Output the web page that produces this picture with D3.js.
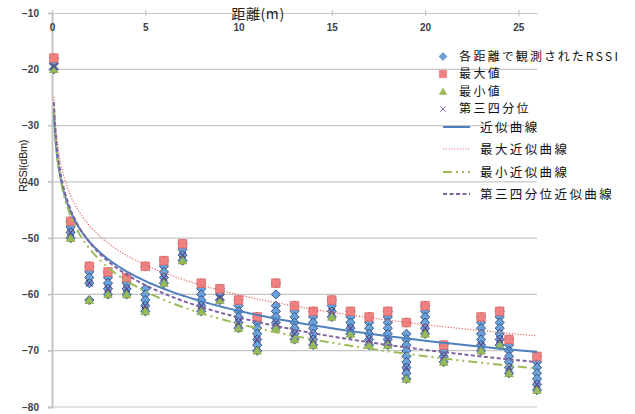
<!DOCTYPE html>
<html><head><meta charset="utf-8">
<script src="https://cdn.jsdelivr.net/npm/d3@7"></script>
<style>
html,body{margin:0;padding:0;background:#fff;}
svg{display:block;}
.cjk{font-feature-settings:"palt";}
</style>
</head><body>
<svg id="chart" width="635" height="414"></svg>
<script>
// ---- data ----
const distances = [0.1,1,2,3,4,5,6,7,8,9,10,11,12,13,14,15,16,17,18,19,20,21,23,24,24.5,26];
const maxValues = [-18,-47,-55,-56,-57,-55,-54,-51,-58,-59,-61,-64,-58,-62,-63,-61,-63,-64,-63,-65,-62,-69,-64,-63,-68,-71];
const minValues = [-20,-50,-61,-60,-60,-63,-58,-54,-63,-61,-66,-70,-66,-68,-69,-64,-67,-69,-69,-75,-67,-72,-70,-69,-74,-77];
const q3Values  = [-19.5,-49,-58,-59,-59,-62,-57,-53,-62,-60.5,-65,-68,-65,-67,-68,-63,-66,-68,-68,-73,-66,-71,-69,-68,-73,-76];
const observed = [
  [-18,-19,-20],
  [-47,-48,-49,-50],
  [-55,-56,-57,-58,-61],
  [-56,-57,-58,-59,-60],
  [-57,-58,-59,-60],
  [-55,-59,-60,-61,-62,-63],
  [-54,-55,-56,-57,-58],
  [-51,-52,-53,-54],
  [-58,-59,-60,-61,-62,-63],
  [-59,-60,-61],
  [-61,-62,-63,-64,-65,-66],
  [-64,-65,-66,-67,-68,-69,-70],
  [-58,-60,-62,-63,-64,-65,-66],
  [-62,-63,-64,-65,-66,-67,-68],
  [-63,-64,-65,-66,-67,-68,-69],
  [-61,-62,-63,-64],
  [-63,-64,-65,-66,-67],
  [-64,-65,-66,-67,-68,-69],
  [-63,-64,-65,-66,-67,-68,-69],
  [-65,-67,-68,-69,-70,-71,-72,-73,-74,-75],
  [-62,-63,-64,-65,-66,-67],
  [-69,-70,-71,-72],
  [-64,-65,-66,-67,-68,-69,-70],
  [-63,-64,-65,-66,-67,-68,-69],
  [-68,-69,-70,-71,-72,-73,-74],
  [-71,-72,-73,-74,-75,-76,-77]
];
const xTicks = [0,5,10,15,20,25];
const yTicks = [-10,-20,-30,-40,-50,-60,-70,-80];
const legendMarkers = ["各距離で観測されたRSSI","最大値","最小値","第三四分位"];
const legendLines = ["近似曲線","最大近似曲線","最小近似曲線","第三四分位近似曲線"];
const xTitle = "距離(m)";
const yTitle = "RSSI(dBm)";

// ---- layout ----
const svg = d3.select("#chart");
const x = d3.scaleLinear().domain([0,26]).range([52,537]);
const y = d3.scaleLinear().domain([-80,-10]).range([407,13]);
const FONT = "'Liberation Sans','Noto Sans CJK JP',sans-serif";
const CJK = "'Noto Sans CJK JP','Liberation Sans',sans-serif";
const col = {blue:"#6AA3DB", blueS:"#2E4A7A", red:"#EF8280", redS:"#D65A58", green:"#9BBB59", greenS:"#7A9A3A", purple:"#5E4A8C",
             lBlue:"#4F81BD", lRed:"#E46A6A", lGreen:"#9BBB59", lPurple:"#8064A2"};

// gridlines (horizontal)
svg.append("g").selectAll("line").data(yTicks.filter(d=>d!==-10)).join("line")
  .attr("x1",48).attr("x2",x(26)).attr("y1",d=>y(d)).attr("y2",d=>y(d))
  .attr("stroke","#c6c6c6").attr("stroke-width",1.2);

// y axis
const yAxis = d3.axisLeft(y).tickValues(yTicks).tickSize(4).tickPadding(9);
const gy = svg.append("g").attr("transform",`translate(${x(0)},0)`).call(yAxis);
gy.select(".domain").attr("stroke","#c6c6c6").attr("stroke-width",2);
gy.selectAll(".tick line").attr("stroke","#c6c6c6").attr("stroke-width",1.2);
gy.selectAll("text").attr("font-family",FONT).attr("font-weight","bold").attr("font-size",10).attr("fill","#404040");

// x axis at top (crosses at -10)
const xAxis = d3.axisBottom(x).tickValues(xTicks).tickSize(0).tickPadding(11);
const gx = svg.append("g").attr("transform",`translate(0,${y(-10)})`).call(xAxis);
gx.select(".domain").attr("stroke","#c6c6c6").attr("stroke-width",1.2);
gx.selectAll(".tick").append("line").attr("y1",-3).attr("y2",3).attr("stroke","#c6c6c6").attr("stroke-width",1.2);
gx.selectAll("text").attr("font-family",FONT).attr("font-weight","bold").attr("font-size",10).attr("fill","#404040");

// axis titles
svg.append("text").attr("class","cjk").attr("x",258).attr("y",19).attr("text-anchor","middle")
  .attr("font-family",CJK).attr("font-size",14).attr("letter-spacing",0.6).attr("fill","#222").text(xTitle);
svg.append("text").attr("transform","translate(27,166) rotate(-90)").attr("text-anchor","middle")
  .attr("font-family",FONT).attr("font-size",11).attr("letter-spacing",-0.4).attr("fill","#222").text(yTitle);

// ---- markers ----
const diamondPath = "M0,-4.6L4.6,0L0,4.6L-4.6,0Z";
const squarePath = "M-4.3,-4.3H4.3V4.3H-4.3Z";
const triPath = "M0,-4.2L4.3,3.4H-4.3Z";
const xPath = "M-3.3,-3.3L3.3,3.3M-3.3,3.3L3.3,-3.3";

const obsPts = [];
distances.forEach((d,i)=>observed[i].forEach(v=>obsPts.push([d,v])));

const gm = svg.append("g");
gm.selectAll(".obs").data(obsPts).join("path").attr("class","obs")
  .attr("d",diamondPath).attr("transform",p=>`translate(${x(p[0])},${y(p[1])})`)
  .attr("fill",col.blue).attr("stroke",col.blueS).attr("stroke-width",0.9);
gm.selectAll(".mx").data(distances.map((d,i)=>[d,maxValues[i]])).join("path").attr("class","mx")
  .attr("d",squarePath).attr("transform",p=>`translate(${x(p[0])},${y(p[1])})`)
  .attr("fill",col.red).attr("stroke",col.redS).attr("stroke-width",0.6);
gm.selectAll(".mn").data(distances.map((d,i)=>[d,minValues[i]])).join("path").attr("class","mn")
  .attr("d",triPath).attr("transform",p=>`translate(${x(p[0])},${y(p[1])})`)
  .attr("fill",col.green).attr("stroke",col.greenS).attr("stroke-width",0.6);
gm.selectAll(".q3").data(distances.map((d,i)=>[d,q3Values[i]])).join("path").attr("class","q3")
  .attr("d",xPath).attr("transform",p=>`translate(${x(p[0])},${y(p[1])})`)
  .attr("fill","none").attr("stroke",col.purple).attr("stroke-width",1.2);

// ---- logarithmic trend lines (least squares, like the spreadsheet) ----
function logFit(pts){
  const L = pts.map(p=>Math.log(p[0])), Y = pts.map(p=>p[1]);
  const mL = d3.mean(L), mY = d3.mean(Y);
  let sxy=0,sxx=0; L.forEach((l,i)=>{sxy+=(l-mL)*(Y[i]-mY); sxx+=(l-mL)*(l-mL);});
  const a = sxy/sxx; return {a, b: mY - a*mL};
}
const sampleX = d3.range(0,201).map(i=>Math.exp(Math.log(0.1)+(Math.log(26)-Math.log(0.1))*i/200));
function trend(pts){ const f=logFit(pts); return sampleX.map(t=>[t, f.a*Math.log(t)+f.b]); }
const line = d3.line().x(p=>x(p[0])).y(p=>y(p[1]));
const trends = [
  {pts:obsPts, stroke:col.lBlue, w:2, dash:null},
  {pts:distances.map((d,i)=>[d,maxValues[i]]), stroke:col.lRed, w:1.2, dash:"1.2,1.6"},
  {pts:distances.map((d,i)=>[d,minValues[i]]), stroke:col.lGreen, w:2, dash:"9,4,2,4,2,4"},
  {pts:distances.map((d,i)=>[d,q3Values[i]]), stroke:col.lPurple, w:2, dash:"4,2.5"}
];
const gt = svg.append("g");
trends.forEach(t=>{
  gt.append("path").attr("d",line(trend(t.pts))).attr("fill","none")
    .attr("stroke",t.stroke).attr("stroke-width",t.w).attr("stroke-dasharray",t.dash);
});

// ---- legend ----
const lg = svg.append("g");
const markerSpec = [
  {d:diamondPath, fill:col.blue, stroke:col.blueS},
  {d:squarePath, fill:col.red, stroke:col.redS},
  {d:triPath, fill:col.green, stroke:col.greenS},
  {d:xPath, fill:"none", stroke:"#8064A2"}
];
const markerY = [56.5,74,91.5,109];
legendMarkers.forEach((t,i)=>{
  lg.append("path").attr("d",markerSpec[i].d).attr("transform",`translate(443,${markerY[i]}) scale(0.85)`)
    .attr("fill",markerSpec[i].fill).attr("stroke",markerSpec[i].stroke).attr("stroke-width",i===3?1:0.5);
  lg.append("text").attr("class","cjk").attr("x",459).attr("y",markerY[i]).attr("dy","0.36em")
    .attr("font-family",CJK).attr("font-size",12).attr("letter-spacing",2.4).attr("fill","#111").text(t);
});
const lineY = [127,149,172,194];
legendLines.forEach((t,i)=>{
  lg.append("line").attr("x1",443).attr("x2",470).attr("y1",lineY[i]).attr("y2",lineY[i])
    .attr("stroke",trends[i].stroke).attr("stroke-width",trends[i].w).attr("stroke-dasharray",trends[i].dash);
  lg.append("text").attr("class","cjk").attr("x",480).attr("y",lineY[i]).attr("dy","0.36em")
    .attr("font-family",CJK).attr("font-size",12.5).attr("letter-spacing",2.4).attr("fill","#111").text(t);
});
</script>
</body></html>
